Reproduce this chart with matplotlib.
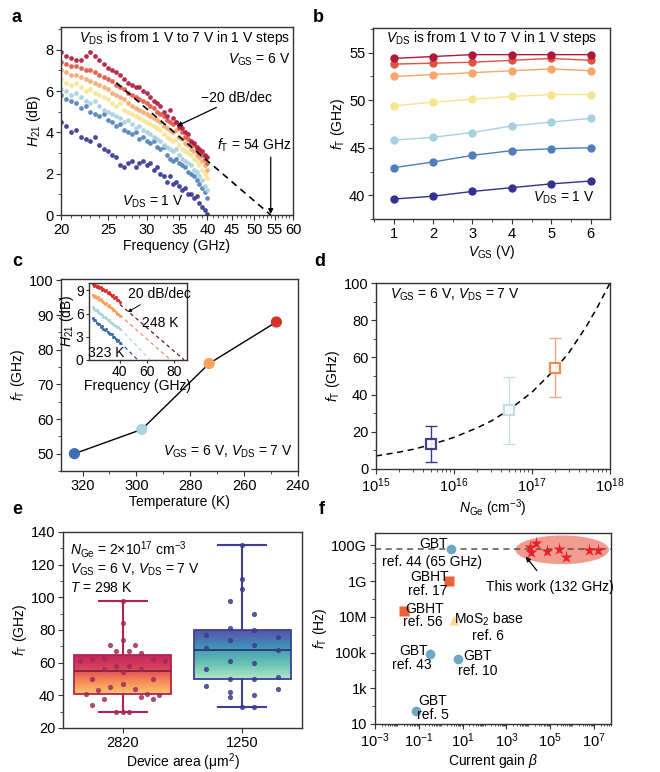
import numpy as np
import matplotlib
matplotlib.use('Agg')
import matplotlib.pyplot as plt
from matplotlib.colors import LinearSegmentedColormap
from matplotlib.patches import Ellipse
from matplotlib.ticker import MultipleLocator, FixedLocator, NullFormatter, LogLocator

plt.rcParams['font.family'] = ['Liberation Sans', 'DejaVu Sans']
plt.rcParams['mathtext.fontset'] = 'custom'
plt.rcParams['mathtext.rm'] = 'Liberation Sans'
plt.rcParams['mathtext.it'] = 'Liberation Sans:italic'
plt.rcParams['mathtext.bf'] = 'Liberation Sans:bold'
plt.rcParams['font.size'] = 10
plt.rcParams['xtick.labelsize'] = 10.5
plt.rcParams['ytick.labelsize'] = 10.5
plt.rcParams['axes.linewidth'] = 1.0
plt.rcParams['axes.edgecolor'] = '#333333'
plt.rcParams['xtick.major.size'] = 3.5
plt.rcParams['ytick.major.size'] = 3.5
plt.rcParams['xtick.minor.size'] = 2
plt.rcParams['ytick.minor.size'] = 2
plt.rcParams['xtick.major.pad'] = 2
plt.rcParams['ytick.major.pad'] = 2
plt.rcParams['axes.labelpad'] = 1.5

# ---------------- data ----------------
# panel a : H21 vs frequency, VDS = 1..7 V
freq_a = np.arange(20, 40.01, 0.5)
h21_v1 = [4.5, 4.3, 4.0, 4.1, 3.8, 3.7, 3.6, 3.8, 3.4, 3.2, 3.1, 2.9, 2.8, 2.4, 2.3, 2.5, 2.6, 2.3, 2.5, 2.6,
          2.4, 2.5, 2.2, 2.3, 2.0, 1.9, 1.6, 1.9, 1.5, 1.6, 1.4, 1.2, 1.3, 1.0, 1.0, 0.8, 0.9, 0.6, 0.4, 0.25, 0.05]
h21_v2 = [5.8, 5.6, 5.5, 5.4, 5.2, 5.3, 5.0, 4.9, 4.8, 4.9, 4.6, 4.5, 4.3, 4.4, 4.1, 4.0, 3.9, 4.0, 3.7, 3.8,
          3.6, 3.5, 3.6, 3.3, 3.2, 3.3, 2.9, 2.7, 2.6, 2.7, 2.5, 2.4, 2.3, 2.1, 2.0, 1.9, 1.7, 1.5, 1.3, 1.1, 0.8]
h21_v3 = [6.1, 6.0, 5.8, 5.9, 5.7, 5.5, 5.4, 5.5, 5.3, 5.1, 5.0, 4.9, 4.8, 4.7, 4.5, 4.6, 4.4, 4.2, 4.3, 4.1,
          4.0, 3.9, 3.8, 3.7, 3.6, 3.4, 3.3, 3.2, 3.1, 3.2, 2.9, 2.7, 2.6, 2.5, 2.4, 2.2, 2.1, 1.9, 1.7, 1.4, 1.2]
h21_v4 = [6.6, 6.4, 6.3, 6.4, 6.2, 6.0, 6.1, 5.9, 5.8, 5.7, 5.6, 5.4, 5.3, 5.4, 5.1, 5.0, 4.9, 4.8, 4.7, 4.6,
          4.5, 4.4, 4.3, 4.2, 4.1, 3.9, 3.8, 3.7, 3.6, 3.7, 3.4, 3.2, 3.1, 3.0, 2.9, 2.7, 2.6, 2.4, 2.2, 2.0, 1.8]
h21_v5 = [7.0, 6.9, 6.8, 6.8, 6.7, 6.6, 6.5, 6.4, 6.3, 6.2, 6.1, 5.9, 5.8, 5.7, 5.6, 5.4, 5.3, 5.2, 5.1, 5.0,
          4.9, 4.8, 4.7, 4.6, 4.5, 4.3, 4.2, 4.1, 4.0, 4.1, 3.8, 3.7, 3.5, 3.4, 3.2, 3.1, 2.9, 2.8, 2.6, 2.4, 2.2]
h21_v6 = [7.4, 7.3, 7.2, 7.2, 7.1, 7.0, 7.0, 6.9, 6.8, 6.7, 6.6, 6.5, 6.3, 6.2, 6.1, 5.9, 5.8, 5.7, 5.6, 5.5,
          5.4, 5.3, 5.2, 5.0, 4.9, 4.8, 4.6, 4.5, 4.4, 4.5, 4.2, 4.0, 3.8, 3.7, 3.5, 3.4, 3.2, 3.0, 2.9, 2.7, 2.5]
h21_v7 = [7.9, 7.7, 7.6, 7.5, 7.5, 7.7, 7.9, 7.7, 7.5, 7.3, 7.1, 7.0, 6.9, 6.8, 6.6, 6.4, 6.3, 6.2, 6.2, 6.0,
          5.9, 5.7, 5.5, 5.4, 5.3, 5.0, 4.8, 5.1, 4.7, 4.5, 4.3, 4.2, 4.0, 3.9, 3.6, 3.5, 3.3, 3.2, 3.1, 2.9, 2.8]
slope_f = [26, 54]
slope_h = [6.4, 0]

# panel b : fT vs VGS
vgs = [1, 2, 3, 4, 5, 6]
ft_v1 = [39.6, 39.9, 40.4, 40.8, 41.2, 41.5]
ft_v2 = [42.9, 43.5, 44.2, 44.7, 44.9, 45.0]
ft_v3 = [45.8, 46.1, 46.6, 47.3, 47.7, 48.1]
ft_v4 = [49.4, 49.8, 50.1, 50.4, 50.6, 50.6]
ft_v5 = [52.5, 52.7, 52.9, 53.1, 53.3, 53.1]
ft_v6 = [53.8, 53.9, 54.0, 54.2, 54.4, 54.2]
ft_v7 = [54.4, 54.6, 54.8, 54.8, 54.8, 54.8]

vds_colors = ['#323290', '#4e7fba', '#a8d0e0', '#f8e48e', '#f8a66a', '#e0533f', '#b0173a']

# panel c : fT vs temperature
temp = [323, 298, 273, 248]
ft_temp = [50, 57, 76, 88]
temp_colors = ['#3d6fb2', '#a9d6dd', '#f7a35c', '#d7302a']
# inset
freq_in = np.arange(20, 40.01, 1.0)
h21_323 = [5.4, 5.1, 5.2, 4.8, 4.6, 4.7, 4.3, 4.4, 4.0, 3.9, 4.0, 3.6, 3.5, 3.3, 3.4, 3.0, 2.9, 2.7, 2.5, 2.6, 2.2]
h21_298 = [6.8, 6.6, 6.5, 6.4, 6.2, 6.1, 5.9, 5.8, 5.6, 5.5, 5.4, 5.2, 5.1, 4.9, 4.8, 4.7, 4.5, 4.4, 4.3, 4.2, 4.0]
h21_273 = [8.4, 8.2, 8.3, 8.0, 8.1, 7.8, 7.9, 7.6, 7.5, 7.3, 7.4, 7.0, 7.1, 6.8, 6.7, 6.5, 6.4, 6.2, 6.0, 5.9, 5.7]
h21_248 = [9.8, 9.6, 9.7, 9.5, 9.6, 9.3, 9.4, 9.1, 9.2, 8.9, 9.0, 8.7, 8.8, 8.5, 8.3, 8.4, 8.0, 8.2, 7.8, 7.7, 7.5]
ext_start = [2.3, 4.1, 5.8, 7.2]
ext_end = [53, 62, 77, 87]

# panel d : fT vs NGe
n_ge = [5e15, 5e16, 2e17]
ft_nge = [13.5, 31.5, 54.5]
ft_lo = [4, 13.5, 38.5]
ft_hi = [23, 49.5, 70.5]
nge_edge = ['#2e2e83', '#bcdcdc', '#e8823e']
nge_err = ['#3b3b8a', '#c8dfe0', '#eea58f']
fit_n = [1e15, 2e15, 3e15, 5e15, 1e16, 2e16, 3e16, 5e16, 1e17, 2e17, 3e17, 5e17, 7e17, 1e18]
fit_ft = [7.0, 9.1, 10.6, 13.0, 17.0, 22.2, 25.8, 31.6, 41.3, 53.9, 62.8, 76.8, 87.5, 100]

# panel e : box plots
areas = ['2820', '1250']
box_q1 = [41, 50]
box_med = [55, 68]
box_q3 = [64.5, 80]
box_lo = [30, 33]
box_hi = [98, 132]
dx_2820 = [-0.36, -0.26, -0.155, -0.11, -0.056, 0, 0, 0, 0.05, 0.1, 0.15, 0.25, 0.35, -0.155, -0.056, 0.05, 0.15,
           0, 0.25, -0.26, -0.31, -0.21, -0.11, 0, 0.1, 0.15, 0.2, 0.25, 0.3, -0.26, -0.155, -0.056, 0, 0.05]
ft_2820 = [61, 62, 63, 71, 67, 84, 74, 98, 67, 71, 66, 62, 61, 56, 58, 58, 56,
           54.5, 50, 50, 41, 43, 45, 47, 44, 39, 41, 38, 40, 34, 38, 30, 30, 30]
dx_1250 = [0, 0, 0, -0.1, 0.1, -0.1, 0.1, -0.3, 0.3, -0.1, 0.1, -0.3, 0.3, -0.1, 0.1, -0.3, -0.1, 0.1, 0.3,
           -0.3, 0.3, -0.1, -0.1, 0.1, 0, 0.1]
ft_1250 = [132, 111, 105, 98, 90, 81, 80, 77, 76, 74, 71, 69, 68, 61, 60, 56, 50, 50, 51,
           46, 44, 42, 39, 40, 33, 33]

# panel f : benchmark
ref_names = ['ref44', 'ref17', 'ref56', 'ref6', 'ref43', 'ref10', 'ref5']
ref_beta = [3.1, 2.5, 0.02, 4.2, 0.33, 6.2, 0.074]
ref_ft = [6.5e10, 1.05e9, 2.1e7, 6.6e6, 8.3e4, 4.3e4, 56]
ref_kind = ['gbt', 'gbht', 'gbht', 'mos2', 'gbt', 'gbt', 'gbt']
work_beta = [1.2e4, 2.3e4, 1.4e4, 6.8e4, 2.6e5, 5.2e5, 6.2e6, 1.5e7]
work_ft = [8e10, 1.32e11, 4.5e10, 5e10, 6.5e10, 2.2e10, 5.5e10, 5.5e10]
ref_line = 6.5e10


def style(ax):
    ax.tick_params(which='both', direction='out', colors='#333333', labelcolor='black')


fig = plt.figure(figsize=(6.6, 7.72), dpi=100)

# ---------------- a ----------------
ax = fig.add_axes([0.0924, 0.7215, 0.3515, 0.2435])
series_a = [h21_v1, h21_v2, h21_v3, h21_v4, h21_v5, h21_v6, h21_v7]
for h, c in zip(series_a, vds_colors):
    ax.plot(freq_a, h, 'o', ms=3.4, color=c, mec='none', alpha=0.9)
ax.plot(slope_f, slope_h, '--', color='black', lw=1.2, dashes=(4, 3))
ax.set_xscale('log')
ax.set_xlim(20, 60)
ax.set_ylim(0, 9.1)
ax.xaxis.set_major_locator(FixedLocator([20, 25, 30, 35, 40, 45, 50, 55, 60]))
ax.xaxis.set_major_formatter(matplotlib.ticker.FuncFormatter(lambda v, p: '%d' % round(v)))
ax.xaxis.set_minor_locator(FixedLocator([v for v in range(21, 60) if v % 5]))
ax.xaxis.set_minor_formatter(NullFormatter())
ax.yaxis.set_major_locator(MultipleLocator(2))
ax.yaxis.set_minor_locator(MultipleLocator(1))
style(ax)
ax.set_xlabel('Frequency (GHz)')
ax.set_ylabel('$H_{21}$ (dB)')
ax.text(0.987, 0.94, '$V_\\mathrm{DS}$ is from 1 V to 7 V in 1 V steps', transform=ax.transAxes, ha='right', va='center')
ax.text(0.987, 0.824, '$V_\\mathrm{GS}$ = 6 V', transform=ax.transAxes, ha='right', va='center')
ax.annotate('\u221220 dB/dec', xy=(34.6, 4.3), xytext=(38.9, 5.68), va='center', ha='left',
            arrowprops=dict(arrowstyle='-|>', color='black', lw=0.9, mutation_scale=7, shrinkA=0, shrinkB=0))
ax.text(41.9, 3.35, '$f_\\mathrm{T}$ = 54 GHz', va='center', ha='left')
ax.annotate('', xy=(54, 0.05), xytext=(54, 2.8),
            arrowprops=dict(arrowstyle='-|>', color='black', lw=0.9, mutation_scale=7, shrinkA=0, shrinkB=0))
ax.text(26.7, 0.63, '$V_\\mathrm{DS}$ = 1 V', va='center', ha='left')

# ---------------- b ----------------
ax = fig.add_axes([0.5652, 0.7163, 0.359, 0.2474])
series_b = [ft_v1, ft_v2, ft_v3, ft_v4, ft_v5, ft_v6, ft_v7]
for f, c in zip(series_b, vds_colors):
    ax.plot(vgs, f, '-o', ms=5, lw=1.0, color=c)
ax.set_xlim(0.48, 6.49)
ax.set_ylim(37.5, 57.6)
ax.xaxis.set_major_locator(MultipleLocator(1))
ax.xaxis.set_minor_locator(MultipleLocator(0.5))
ax.yaxis.set_major_locator(MultipleLocator(5))
ax.yaxis.set_minor_locator(MultipleLocator(2.5))
style(ax)
ax.set_xlabel('$V_\\mathrm{GS}$ (V)')
ax.set_ylabel('$f_\\mathrm{T}$ (GHz)')
ax.text(0.5, 0.947, '$V_\\mathrm{DS}$ is from 1 V to 7 V in 1 V steps', transform=ax.transAxes, ha='center', va='center')
ax.text(0.937, 0.11, '$V_\\mathrm{DS}$ = 1 V', transform=ax.transAxes, ha='right', va='center')

# ---------------- c ----------------
ax = fig.add_axes([0.0924, 0.3899, 0.359, 0.2487])
ax.plot(temp, ft_temp, '-', color='black', lw=1.0, zorder=1)
ax.scatter(temp, ft_temp, s=50, c=temp_colors, zorder=2)
ax.set_xlim(328, 240)
ax.set_ylim(45, 100.4)
ax.xaxis.set_major_locator(MultipleLocator(20))
ax.xaxis.set_minor_locator(MultipleLocator(10))
ax.yaxis.set_major_locator(MultipleLocator(10))
ax.yaxis.set_minor_locator(MultipleLocator(5))
style(ax)
ax.set_xlabel('Temperature (K)')
ax.set_ylabel('$f_\\mathrm{T}$ (GHz)')
ax.text(0.98, 0.1, '$V_\\mathrm{GS}$ = 6 V, $V_\\mathrm{DS}$ = 7 V', transform=ax.transAxes, ha='right', va='center')

ins = fig.add_axes([0.135, 0.534, 0.148, 0.0997])
series_in = [h21_323, h21_298, h21_273, h21_248]
dash_cols = ['#3a4f9a', '#b8d3de', '#e8956a', '#6a1a2a']
for h, c, h0, f1, dc in zip(series_in, temp_colors, ext_start, ext_end, dash_cols):
    ins.plot(freq_in, h, 'o', ms=2.2, color=c, mec='none')
    ins.plot(freq_in, h, '-', lw=0.6, color=c)
    ins.plot([40, f1], [h0, 0], '--', lw=0.9, color=dc, dashes=(3, 2.5))
ins.set_xlim(17.5, 89)
ins.set_ylim(0, 10)
ins.xaxis.set_major_locator(FixedLocator([40, 60, 80]))
ins.yaxis.set_major_locator(FixedLocator([0, 3, 6, 9]))
ins.tick_params(which='both', direction='out', length=2.5, pad=1.5, labelsize=10, colors='#333333', labelcolor='black')
ins.set_xlabel('Frequency (GHz)', labelpad=0)
ins.set_ylabel('$H_{21}$ (dB)', labelpad=0)
ins.annotate('20 dB/dec', xy=(45.8, 6.2), xytext=(69, 8.6), ha='center', va='center',
             arrowprops=dict(arrowstyle='-|>', color='black', lw=0.7, mutation_scale=5, shrinkA=2, shrinkB=0))
ins.text(69.8, 4.8, '248 K', ha='center', va='center')
ins.text(30, 0.9, '323 K', ha='center', va='center')

# ---------------- d ----------------
ax = fig.add_axes([0.5697, 0.3925, 0.3545, 0.2409])
ax.plot(fit_n, fit_ft, '--', color='black', lw=1.1, dashes=(4, 3), zorder=1)
for n, f, lo, hi, ec, erc in zip(n_ge, ft_nge, ft_lo, ft_hi, nge_edge, nge_err):
    ax.errorbar([n], [f], yerr=[[f - lo], [hi - f]], fmt='none', ecolor=erc, elinewidth=1.0, capsize=4, capthick=1.0, zorder=2)
    ax.plot([n], [f], 's', ms=7.5, mfc='white', mec=ec, mew=1.6, alpha=0.9, zorder=3)
ax.set_xscale('log')
ax.set_xlim(1e15, 1e18)
ax.set_ylim(0, 100)
ax.xaxis.set_major_locator(LogLocator(base=10, numticks=10))
ax.xaxis.set_minor_locator(LogLocator(base=10, subs=np.arange(2, 10), numticks=20))
ax.xaxis.set_minor_formatter(NullFormatter())
ax.yaxis.set_major_locator(MultipleLocator(20))
ax.yaxis.set_minor_locator(MultipleLocator(10))
style(ax)
ax.set_xlabel('$N_\\mathrm{Ge}$ (cm$^{-3}$)')
ax.set_ylabel('$f_\\mathrm{T}$ (GHz)')
ax.text(0.06, 0.935, '$V_\\mathrm{GS}$ = 6 V, $V_\\mathrm{DS}$ = 7 V', transform=ax.transAxes, ha='left', va='center')

# ---------------- e ----------------
ax = fig.add_axes([0.0955, 0.057, 0.3621, 0.2539])
stats = [dict(med=m, q1=a, q3=b, whislo=lo, whishi=hi, fliers=[])
         for m, a, b, lo, hi in zip(box_med, box_q1, box_q3, box_lo, box_hi)]
edge_cols = ['#b3234e', '#3e3f98']
med_cols = ['#6e1a35', '#1f2a5a']
bp = ax.bxp(stats, positions=[0, 1], widths=0.81, patch_artist=True, showfliers=False, capwidths=0.4)
cmaps = [LinearSegmentedColormap.from_list('warm', ['#fdc672', '#f58a55', '#d9405a', '#c2285c']),
         LinearSegmentedColormap.from_list('cool', ['#b2e8c6', '#62c0b2', '#3f8fb8', '#5b4ea3'])]
grad = np.linspace(0, 1, 256).reshape(-1, 1)
for i, box in enumerate(bp['boxes']):
    box.set_facecolor('none')
    box.set_edgecolor(edge_cols[i])
    box.set_linewidth(1.3)
    box.set_zorder(3)
    im = ax.imshow(grad, cmap=cmaps[i], aspect='auto', origin='lower',
                   extent=[i - 0.405, i + 0.405, box_q1[i], box_q3[i]], zorder=1)
    im.set_clip_path(box)
for i in range(2):
    for ln in bp['whiskers'][2 * i:2 * i + 2] + bp['caps'][2 * i:2 * i + 2]:
        ln.set_color(edge_cols[i])
        ln.set_linewidth(1.5)
    bp['medians'][i].set_color(med_cols[i])
    bp['medians'][i].set_linewidth(1.1)
    bp['medians'][i].set_zorder(4)
ax.scatter([0 + d for d in dx_2820], ft_2820, s=14, color='#a02a5a', alpha=0.85, zorder=5, linewidths=0)
ax.scatter([1 + d for d in dx_1250], ft_1250, s=14, color='#3c3a8e', alpha=0.85, zorder=5, linewidths=0)
ax.set_xlim(-0.5, 1.5)
ax.set_ylim(20, 140)
ax.set_xticks([0, 1])
ax.set_xticklabels(areas)
ax.yaxis.set_major_locator(MultipleLocator(20))
ax.yaxis.set_minor_locator(MultipleLocator(10))
style(ax)
ax.set_xlabel('Device area (\u03bcm$^2$)')
ax.set_ylabel('$f_\\mathrm{T}$ (GHz)')
ax.text(0.03, 0.913, '$N_\\mathrm{Ge}$ = 2\u00d710$^{17}$ cm$^{\u22123}$', transform=ax.transAxes, ha='left', va='center')
ax.text(0.03, 0.806, '$V_\\mathrm{GS}$ = 6 V, $V_\\mathrm{DS}$ = 7 V', transform=ax.transAxes, ha='left', va='center')
ax.text(0.03, 0.714, '$T$ = 298 K', transform=ax.transAxes, ha='left', va='center')

# ---------------- f ----------------
ax = fig.add_axes([0.5682, 0.0622, 0.3576, 0.2474])
ax.set_xscale('log')
ax.set_yscale('log')
ax.set_xlim(1e-3, 6e7)
ax.set_ylim(10, 5e11)
ax.add_patch(Ellipse((0.793, 0.912), 0.396, 0.15, transform=ax.transAxes, color='#ee7a6a', alpha=0.75, lw=0, zorder=1))
ax.axhline(ref_line, color='#555555', ls='--', lw=1.1, dashes=(4, 3), zorder=2)
kind_style = {'gbt': dict(marker='o', ms=7, color='#6fa7c9'),
              'gbht': dict(marker='s', ms=6.5, color='#ef6239'),
              'mos2': dict(marker='^', ms=6.5, color='#f6da8f')}
for b, f, k in zip(ref_beta, ref_ft, ref_kind):
    ax.plot([b], [f], ls='none', mec='none', zorder=3, **kind_style[k])
ax.plot(work_beta, work_ft, '*', ms=9.5, color='#e8202a', mec='none', zorder=4)
ax.xaxis.set_major_locator(FixedLocator([1e-3, 1e-1, 1e1, 1e3, 1e5, 1e7]))
ax.xaxis.set_major_formatter(matplotlib.ticker.FuncFormatter(lambda v, p: '$10^{%d}$' % round(np.log10(v))))
ax.xaxis.set_minor_locator(LogLocator(base=10, subs=np.arange(1, 10), numticks=40))
ax.xaxis.set_minor_formatter(NullFormatter())
ax.yaxis.set_major_locator(FixedLocator([1e1, 1e3, 1e5, 1e7, 1e9, 1e11]))
ax.yaxis.set_major_formatter(matplotlib.ticker.FixedFormatter(['10', '1k', '100k', '10M', '1G', '100G']))
ax.yaxis.set_minor_locator(FixedLocator([1e2, 1e4, 1e6, 1e8, 1e10]))
ax.yaxis.set_minor_formatter(NullFormatter())
style(ax)
ax.tick_params(axis='x', which='minor', length=1.5)
ax.set_xlabel('Current gain $\\beta$')
ax.set_ylabel('$f_\\mathrm{T}$ (Hz)')
labels_f = [('GBT', 0.457, 1.15e11), ('ref. 44 (65 GHz)', 0.41, 1.26e10),
            ('GBHT', 0.30, 1.78e9), ('ref. 17', 0.243, 2.9e8),
            ('GBHT', 0.177, 2.75e7), ('ref. 56', 0.159, 5.1e6),
            ('MoS$_2$ base', 151, 7.6e6), ('ref. 6', 138, 8.3e5),
            ('GBT', 0.055, 1.3e5), ('ref. 43', 0.050, 2.1e4),
            ('GBT', 48, 6.2e4), ('ref. 10', 48, 9.8e3),
            ('GBT', 0.41, 200), ('ref. 5', 0.43, 32)]
for s, x, y in labels_f:
    ax.text(x, y, s, ha='center', va='center', zorder=5)
ax.annotate('This work (132 GHz)', xy=(7.6e3, 2.4e10), xytext=(9.5e4, 4.8e8), ha='center', va='center',
            arrowprops=dict(arrowstyle='-|>', color='black', lw=0.9, mutation_scale=7, shrinkA=6, shrinkB=0))

# panel letters
for s, x, y in [('a', 17, 18), ('b', 318, 18), ('c', 17, 262), ('d', 320, 262), ('e', 17, 510), ('f', 322, 510)]:
    fig.text(x / 660, 1 - y / 772, s, fontsize=13, fontweight='bold', ha='center', va='center')

fig.savefig('out.png', dpi=100)
